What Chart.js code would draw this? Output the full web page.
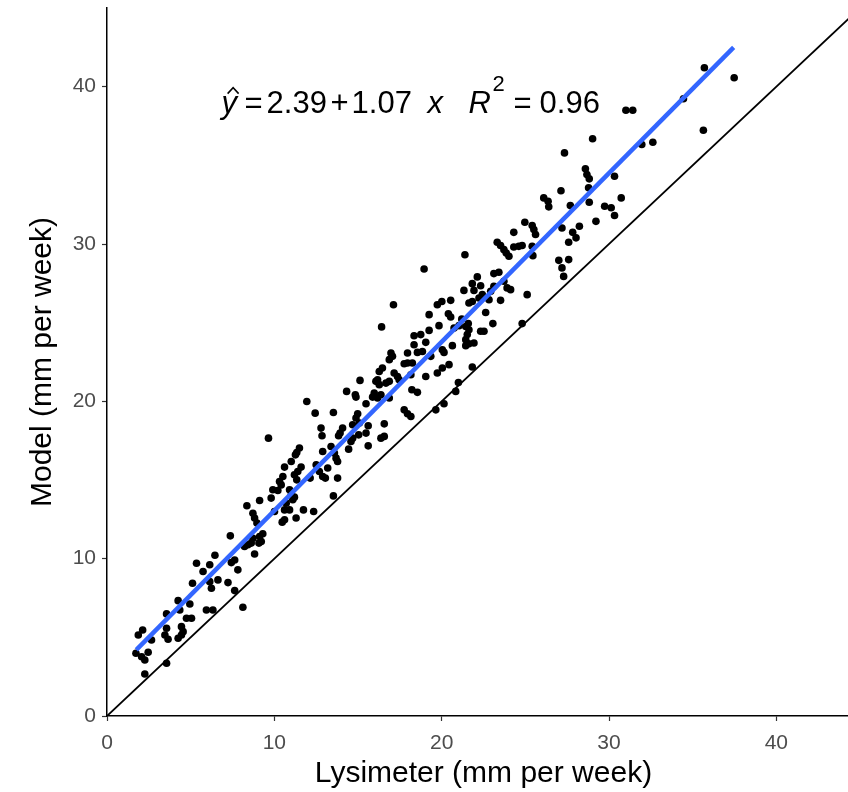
<!DOCTYPE html>
<html>
<head>
<meta charset="utf-8">
<script src="https://cdn.jsdelivr.net/npm/chart.js@4.4.0/dist/chart.umd.min.js"></script>
<style>
html, body { margin: 0; padding: 0; background: #fff; overflow: hidden; }
canvas { display: block; }
</style>
</head>
<body>
<canvas id="chart" width="864" height="792"></canvas>
<script>
// lysimeter (x) vs model (y), mm per week
var lysimeter = [
  1.73, 2.07, 2.26, 2.46, 2.26, 3.56, 2.13, 1.87, 2.66, 3.46, 3.65, 4.25, 4.45, 3.56, 4.45, 4.55,
  4.75, 5.05, 3.56, 4.35, 4.25, 4.95, 5.94, 6.33, 8.12, 5.11, 6.14, 6.24, 6.63, 7.23, 7.63, 5.74,
  5.35, 6.14, 6.45, 7.82, 7.37,
  12.44, 13.53, 14.98, 14.88, 14.68, 15.08, 14.08, 13.93, 13.84, 15.61, 15.48, 12.79, 12.85, 15.04,
  14.68, 14.58, 9.65, 11.50, 11.34, 11.26, 12.89, 13.39, 13.59, 13.78, 13.69, 14.44, 15.61, 11.01,
  10.61, 11.60, 11.40, 11.20, 11.34, 12.50, 12.69, 12.89, 13.05, 13.19, 13.78, 12.14, 10.51, 10.31,
  10.41, 9.91, 10.21, 10.91, 11.01, 11.10, 11.20, 9.81, 9.12, 13.53, 8.36, 10.71, 10.91, 10.61,
  10.01, 11.74, 12.35, 8.72, 8.82, 10.61, 10.47, 11.30, 8.96, 9.31, 9.12, 9.22, 9.08, 8.72, 8.62,
  8.42, 8.22, 8.82, 7.63, 7.43,
  18.35, 18.35, 16.41, 16.97, 17.06, 16.87, 17.96, 18.55, 17.76, 17.96, 18.25, 16.46, 16.27, 17.16,
  17.36, 17.46, 18.16, 16.17, 16.07, 16.27, 15.12, 16.67, 16.87, 14.32, 14.84, 14.88, 15.97, 15.87,
  16.17, 16.37, 16.87, 18.22, 18.55, 15.48, 17.76, 17.96, 18.16, 16.57, 16.57, 16.37, 20.84, 20.14,
  19.65, 17.12, 11.94, 19.35,
  24.97, 25.41, 25.51, 25.61, 24.31, 27.19, 27.83, 23.32, 23.52, 23.72, 23.86, 24.02, 24.31, 24.61,
  24.81, 25.41, 25.45, 27.59, 28.03, 21.39, 27.00, 27.59, 27.19, 27.29, 18.95, 23.12, 23.42, 22.13,
  21.83, 22.33, 21.93, 21.33, 23.72, 23.91, 24.12, 23.12, 22.93, 25.11, 22.43, 22.23, 21.83, 21.63,
  22.83, 23.52, 20.54, 20.01, 19.74, 22.63, 19.25, 20.40, 20.54, 21.20, 21.59, 21.44, 21.63, 21.53,
  21.04, 20.74, 19.84, 23.06, 22.33, 22.53, 24.81, 19.25, 18.75, 21.44, 21.63, 21.93, 21.44, 20.64,
  19.05, 18.85, 20.04, 20.14, 20.44, 20.04, 19.74, 21.83, 19.05, 21.00,
  29.02, 31.96, 32.62, 27.34, 28.59, 28.68, 28.82, 30.33, 28.78, 27.13, 26.10, 26.36, 26.40, 30.73,
  27.69, 28.82, 29.74, 30.13, 30.33, 29.22, 28.23,
  35.70, 37.48, 34.45, 31.01, 31.42, 35.64
];
var model = [
  3.99, 3.77, 3.56, 4.05, 2.67, 3.35, 5.47, 5.15, 4.83, 5.15, 4.88, 4.94, 5.15, 5.58, 5.68, 5.36,
  6.21, 6.21, 6.49, 6.74, 7.33, 7.12, 6.74, 6.74, 6.91, 8.44, 8.54, 8.12, 8.65, 8.48, 7.97, 9.18,
  9.71, 9.61, 10.22, 9.29, 11.45,
  19.25, 19.29, 19.21, 18.94, 18.51, 18.62, 18.30, 17.98, 17.81, 18.45, 17.98, 18.30, 17.81, 17.87,
  17.66, 17.45, 17.66, 17.03, 16.75, 16.60, 16.81, 17.13, 16.71, 16.18, 16.39, 16.96, 17.17, 16.18,
  15.82, 15.82, 15.54, 15.33, 15.01, 15.97, 15.54, 15.22, 15.12, 15.76, 15.12, 15.12, 15.22, 14.90,
  14.69, 14.38, 14.33, 14.38, 14.06, 13.74, 13.91, 13.85, 13.70, 13.99, 13.36, 13.53, 13.10, 13.10,
  13.00, 13.10, 13.00, 12.89, 12.58, 12.47, 12.32, 12.58, 12.26, 11.58, 11.41, 11.09, 10.99, 11.30, 10.99,
  10.88, 10.77, 10.30, 9.92, 9.75,
  24.17, 23.60, 24.73, 23.07, 22.86, 22.65, 23.07, 23.11, 22.39, 22.44, 22.44, 22.12, 21.90, 21.80,
  21.58, 21.37, 21.69, 21.37, 21.27, 21.06, 21.33, 21.16, 21.27, 20.63, 20.42, 20.27, 20.53, 20.27,
  20.21, 20.42, 20.21, 20.74, 20.57, 19.85, 19.46, 19.21, 19.04, 18.57, 17.77, 17.66, 20.63, 19.85,
  19.46, 26.14, 19.99, 22.86,
  31.38, 31.17, 30.92, 30.60, 30.74, 31.02, 30.74, 30.11, 29.90, 29.64, 29.43, 29.22, 29.81, 29.85,
  29.90, 29.85, 29.26, 30.11, 30.39, 29.32, 28.96, 29.01, 28.48, 27.94, 28.41, 28.12, 28.20, 27.91,
  27.48, 27.35, 27.05, 27.05, 27.63, 27.21, 27.10, 27.31, 26.99, 26.78, 26.78, 26.57, 26.35, 26.25,
  26.46, 26.42, 26.42, 26.35, 26.14, 25.65, 25.51, 25.57, 25.36, 25.23, 24.94, 24.76, 24.55, 24.24,
  24.81, 24.66, 24.81, 24.94, 24.45, 24.45, 24.94, 24.51, 24.24, 23.92, 23.66, 23.71, 23.54, 23.54,
  23.75, 23.17, 23.28, 23.11, 22.33, 22.12, 21.80, 22.18, 21.58, 21.20,
  36.69, 36.32, 36.47, 35.79, 34.78, 34.41, 34.14, 34.31, 33.57, 33.38, 32.93, 32.72, 32.36, 32.93,
  32.44, 32.65, 32.40, 32.30, 31.81, 31.44, 31.13,
  41.20, 40.57, 39.23, 38.50, 38.50, 37.23
];

// fitted line ends
var fitX = [1.75, 37.45];
var fitY = [4.2, 42.5];
// 1:1 reference line
var oneX = [0, 45];
var oneY = [0, 45];

var xTicks = [0, 10, 20, 30, 40];
var yTicks = [0, 10, 20, 30, 40];
var eqAt = [6.85, 38.35];

var FONT = '"Liberation Sans", Arial, sans-serif';

function pairs(xs, ys) {
    var out = [];
    for (var i = 0; i < xs.length; i++) out.push({ x: xs[i], y: ys[i] });
    return out;
}

var eqLabel = {
    id: 'eqLabel',
    afterDatasetsDraw: function(chart) {
        var ctx = chart.ctx;
        var left = chart.scales.x.getPixelForValue(eqAt[0]);
        var base = chart.scales.y.getPixelForValue(eqAt[1]);
        var up = '31px ' + FONT;
        var it = 'italic 31px ' + FONT;
        ctx.save();
        ctx.fillStyle = '#000';
        ctx.strokeStyle = '#000';
        ctx.textAlign = 'left';
        ctx.textBaseline = 'alphabetic';
        ctx.font = it;
        ctx.fillText('y', left, base);
        // hat over y
        ctx.lineWidth = 1.5;
        ctx.beginPath();
        ctx.moveTo(left + 6, base - 19);
        ctx.lineTo(left + 11.5, base - 25);
        ctx.lineTo(left + 17, base - 19);
        ctx.stroke();
        ctx.font = up;
        ctx.fillText('=', left + 23, base);
        ctx.fillText('2.39', left + 45, base);
        ctx.fillText('+', left + 109, base);
        ctx.fillText('1.07', left + 130, base);
        ctx.font = it;
        ctx.fillText('x', left + 206, base);
        ctx.fillText('R', left + 247, base);
        ctx.font = '22px ' + FONT;
        ctx.fillText('2', left + 271, base - 22);
        ctx.font = up;
        ctx.fillText('=', left + 292, base);
        ctx.fillText('0.96', left + 318, base);
        ctx.restore();
    }
};

function axisOpts(ticks, title, fit) {
    return {
        type: 'linear',
        min: 0,
        max: 45,
        afterBuildTicks: function(s) {
            s.ticks = ticks.map(function(v) { return { value: v }; });
        },
        afterFit: fit,
        grid: {
            display: true,
            drawOnChartArea: false,
            drawTicks: true,
            tickLength: 5,
            tickColor: '#333333',
            tickWidth: 1.2
        },
        border: { display: true, color: '#000', width: 1.5 },
        ticks: {
            color: '#4d4d4d',
            font: { family: FONT, size: 21 },
            padding: 6,
            maxRotation: 0
        },
        title: {
            display: true,
            text: title,
            color: '#000',
            font: { family: FONT, size: 30 }
        }
    };
}

var xOpts = axisOpts(xTicks, 'Lysimeter (mm per week)', function(s) {
    s.height = 76;
    s.paddingLeft = 0;
    s.paddingRight = 0;
});
xOpts.ticks.padding = 10;
xOpts.title.padding = { top: 0, bottom: 0 };
var yOpts = axisOpts(yTicks, 'Model (mm per week)', function(s) {
    s.width = 107;
    s.paddingTop = 0;
    s.paddingBottom = 0;
});
yOpts.title.padding = { top: 25, bottom: 0 };

var ctx = document.getElementById('chart').getContext('2d');
var myChart = new Chart(ctx, {
    type: 'scatter',
    data: {
        datasets: [
            {
                data: pairs(fitX, fitY),
                showLine: true,
                borderColor: '#3366FF',
                borderWidth: 4.5,
                pointRadius: 0,
                order: 1
            },
            {
                data: pairs(oneX, oneY),
                showLine: true,
                borderColor: '#000',
                borderWidth: 1.8,
                pointRadius: 0,
                order: 2
            },
            {
                data: pairs(lysimeter, model),
                backgroundColor: '#000',
                borderWidth: 0,
                pointRadius: 3.8,
                order: 3
            }
        ]
    },
    options: {
        responsive: false,
        animation: false,
        devicePixelRatio: 1,
        layout: { padding: { top: 8, right: 1, left: 0, bottom: 0 } },
        plugins: {
            legend: { display: false },
            tooltip: { enabled: false }
        },
        scales: { x: xOpts, y: yOpts }
    },
    plugins: [eqLabel]
});
</script>
</body>
</html>
